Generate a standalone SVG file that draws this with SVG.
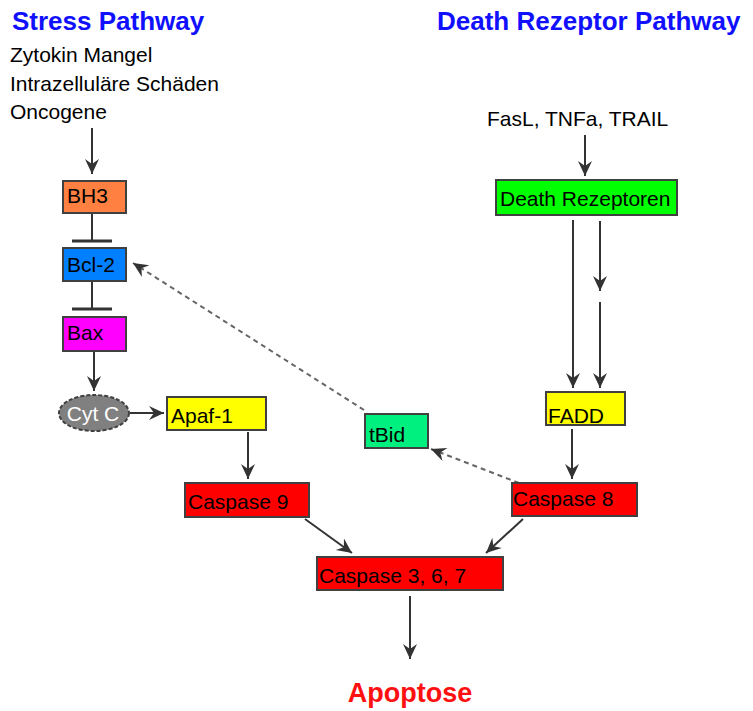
<svg xmlns="http://www.w3.org/2000/svg" width="753" height="711" viewBox="0 0 753 711">
<defs>
<marker id="ah" markerUnits="userSpaceOnUse" viewBox="-16 -8 17 16" refX="0" refY="0" markerWidth="17" markerHeight="16" orient="auto">
<path d="M0,0 L-15,-7 L-10,0 L-15,7 Z" fill="#333"/>
</marker>
</defs>
<style>
.t{font-family:"Liberation Sans",Arial,sans-serif;font-size:21px;fill:#000}
.h{font-family:"Liberation Sans",Arial,sans-serif;font-size:26px;font-weight:bold;fill:#1010ff}
.b{stroke:#404040;stroke-width:2}
.c{stroke:#333;stroke-width:2;fill:none}
.d{stroke:#666;stroke-width:2;stroke-dasharray:5 4;fill:none}
</style>
<rect width="753" height="711" fill="#fff"/>
<text class="h" x="12" y="30">Stress Pathway</text>
<text class="h" x="437" y="30">Death Rezeptor Pathway</text>
<text class="t" x="10" y="62">Zytokin Mangel</text>
<text class="t" x="10" y="91">Intrazelluläre Schäden</text>
<text class="t" x="10" y="119">Oncogene</text>
<text class="t" x="487" y="126">FasL, TNFa, TRAIL</text>
<g id="connectors">
<line class="c" x1="92" y1="128" x2="92" y2="174" marker-end="url(#ah)"/>
<line class="c" x1="92" y1="213" x2="92" y2="241"/>
<line class="c" x1="72" y1="241" x2="112" y2="241" style="stroke-width:3"/>
<line class="c" x1="92" y1="281" x2="92" y2="309"/>
<line class="c" x1="72" y1="309" x2="112" y2="309" style="stroke-width:3"/>
<line class="c" x1="94" y1="352" x2="94" y2="391" marker-end="url(#ah)"/>
<line class="c" x1="130" y1="413" x2="164" y2="413" marker-end="url(#ah)"/>
<line class="c" x1="248" y1="432" x2="248" y2="479" marker-end="url(#ah)"/>
<line class="c" x1="585" y1="135" x2="585" y2="176" marker-end="url(#ah)"/>
<line class="c" x1="573" y1="220" x2="573" y2="388" marker-end="url(#ah)"/>
<line class="c" x1="600" y1="221" x2="600" y2="291" marker-end="url(#ah)"/>
<line class="c" x1="600" y1="302" x2="600" y2="388" marker-end="url(#ah)"/>
<line class="c" x1="572" y1="429" x2="572" y2="479" marker-end="url(#ah)"/>
<line class="c" x1="305" y1="519" x2="352" y2="553" marker-end="url(#ah)"/>
<line class="c" x1="523" y1="519" x2="486" y2="553" marker-end="url(#ah)"/>
<line class="c" x1="410" y1="596" x2="410" y2="659" marker-end="url(#ah)"/>
<line class="d" x1="519" y1="483" x2="431" y2="449" marker-end="url(#ah)"/>
<line class="d" x1="364" y1="410" x2="133" y2="263" marker-end="url(#ah)"/>
</g>
<g id="bh3"><rect class="b" x="63" y="181" width="63" height="32" fill="#ff8040"/><text class="t" x="67" y="203">BH3</text></g>
<g id="bcl2"><rect class="b" x="63" y="248" width="63" height="33" fill="#0080ff"/><text class="t" x="67" y="272">Bcl-2</text></g>
<g id="bax"><rect class="b" x="63" y="317" width="63" height="34" fill="#ff00ff"/><text class="t" x="67" y="340">Bax</text></g>
<g id="cytc"><ellipse cx="94" cy="413" rx="35" ry="18" fill="#808080" stroke="#404040" stroke-width="2" stroke-dasharray="4 2"/><text class="t" x="93" y="421" text-anchor="middle" style="fill:#fff">Cyt C</text></g>
<g id="apaf1"><rect class="b" x="167" y="397" width="99" height="33" fill="#ffff00"/><text class="t" x="171" y="423">Apaf-1</text></g>
<g id="casp9"><rect class="b" x="185" y="483" width="124" height="34" fill="#ff0000"/><text class="t" x="188" y="509">Caspase 9</text></g>
<g id="dr"><rect class="b" x="496" y="180" width="181" height="35" fill="#00ff00"/><text class="t" x="500" y="206">Death Rezeptoren</text></g>
<g id="fadd"><rect class="b" x="546" y="392" width="79" height="33" fill="#ffff00"/><text class="t" x="548" y="423">FADD</text></g>
<g id="tbid"><rect class="b" x="365" y="414" width="63" height="34" fill="#00f080"/><text class="t" x="369" y="442">tBid</text></g>
<g id="casp8"><rect class="b" x="512" y="483" width="125" height="33" fill="#ff0000"/><text class="t" x="513" y="506">Caspase 8</text></g>
<g id="casp3"><rect class="b" x="317" y="557" width="186" height="33" fill="#ff0000"/><text class="t" x="319" y="583">Caspase 3, 6, 7</text></g>
<g id="apoptose"><text x="410" y="702" text-anchor="middle" style="font-family:'Liberation Sans',Arial,sans-serif;font-size:27px;font-weight:bold;fill:#ff1010">Apoptose</text></g>
</svg>
